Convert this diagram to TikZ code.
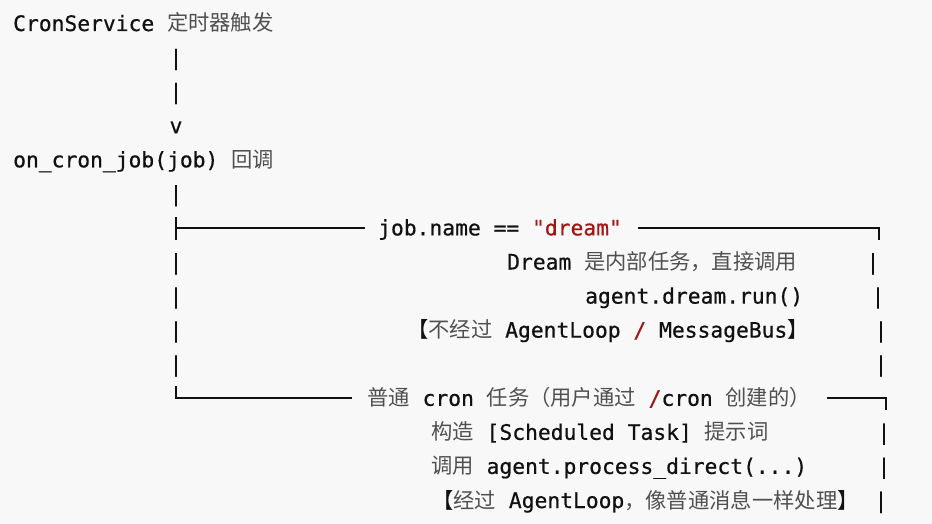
\documentclass[tikz,border=0pt]{standalone}
\usepackage{fontspec}
\newfontfamily\mono{DejaVu Sans Mono}[FakeBold=0.6]
\newfontfamily\cjk{Noto Sans CJK SC}
\definecolor{zhgray}{HTML}{505050}
\definecolor{strred}{HTML}{A31515}
\definecolor{bgc}{HTML}{F8F8F8}
\definecolor{ink}{HTML}{111111}
\newcommand\zh[1]{{\cjk\color{zhgray}#1}}
\newcommand\zk[1]{{\cjk\color{ink}#1}}
\newcommand\rd[1]{{\color{strred}#1}}
\begin{document}
\begin{tikzpicture}[x=1pt,y=-1pt,
  txt/.style={anchor=base west, inner sep=0pt, font=\mono\fontsize{21.3}{25}\selectfont, text=ink},
  bar/.style={anchor=base, inner sep=0pt, font=\mono\fontsize{21.3}{25}\selectfont, text=ink},
  boxline/.style={line width=1.3pt, draw=ink}]
\fill[bgc] (0,0) rectangle (932,524);
\useasboundingbox (0,0) rectangle (932,524);

% line 1
\node[txt] (l1) at (13,31) {CronService \zh{定时器触发}};
\node[bar] (b2) at (176,65.1) {|};
\node[bar] (b3) at (176,99.1) {|};
\node[bar] (b4) at (176,133.2) {v};
% line 5
\node[txt] (l5) at (13,167.3) {on\_cron\_job(job) \zh{回调}};
\node[bar] (b6) at (176,201.4) {|};
% line 7
\draw[boxline] (176,217) -- (176,240);
\draw[boxline] (176,228) -- (365,228);
\node[txt] (l7) at (378,235.4) {job.name == \rd{"dream"}};
\draw[boxline] (638,228) -- (879,228) -- (879,240);
% line 8
\node[txt] (l8) at (507,269.5) {Dream \zh{是内部任务，直接调用}};
\node[bar] (b8l) at (176,269.5) {|};
\node[bar] (b8r) at (873,269.5) {|};
% line 9
\node[txt] (l9) at (585,303.6) {agent.dream.run()};
\node[bar] (b9l) at (176,303.6) {|};
\node[bar] (b9r) at (878,303.6) {|};
% line 10
\node[txt] (l10) at (407,337.6) {\zk{【}\zh{不经过} AgentLoop \rd{/} MessageBus\zk{】}};
\node[bar] (b10l) at (176,337.6) {|};
\node[bar] (b10r) at (881,337.6) {|};
% line 11
\node[bar] (b11l) at (176,371.7) {|};
\node[bar] (b11r) at (881,371.7) {|};
% line 12
\draw[boxline] (176,386) -- (176,398) -- (352,398);
\node[txt] (l12) at (367,405.8) {\zh{普通} cron \zh{任务（用户通过} \rd{/}cron \zh{创建的）}};
\draw[boxline] (827,398) -- (886,398) -- (886,410);
% line 13
\node[txt] (l13) at (431,439.8) {\zh{构造} [Scheduled Task] \zh{提示词}};
\node[bar] (b13r) at (884,439.8) {|};
% line 14
\node[txt] (l14) at (431,473.9) {\zh{调用} agent.process\_direct(...)};
\node[bar] (b14r) at (884,473.9) {|};
% line 15
\node[txt] (l15) at (432,508) {\zk{【}\zh{经过} AgentLoop\zh{，像普通消息一样处理}\zk{】}};
\node[bar] (b15r) at (881,508) {|};
\end{tikzpicture}
\end{document}
